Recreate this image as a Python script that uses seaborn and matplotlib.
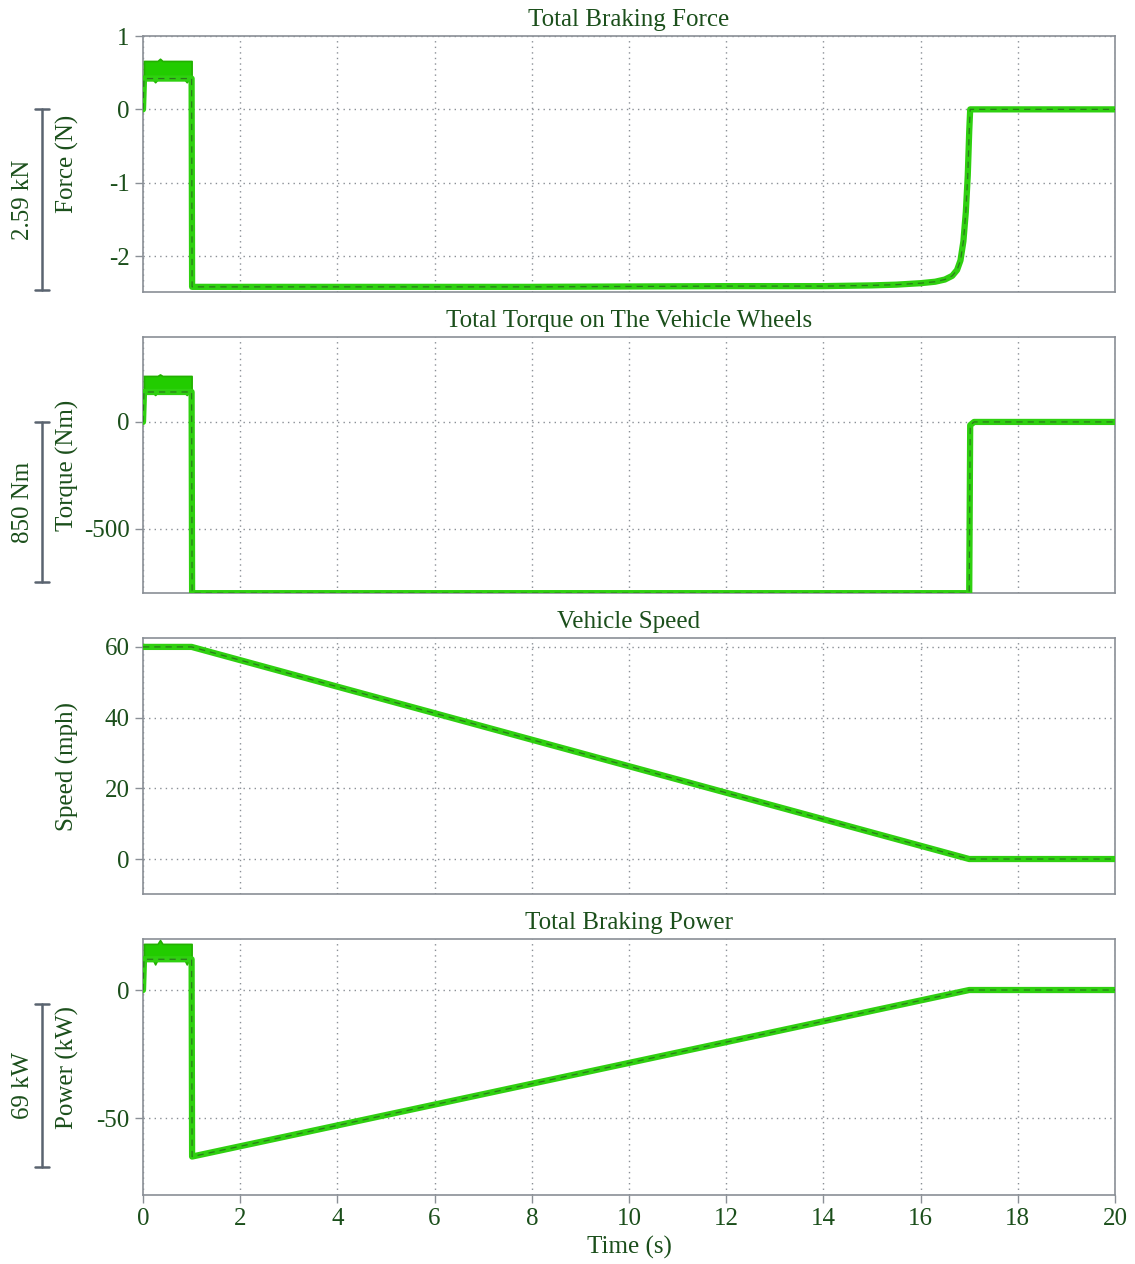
import matplotlib
matplotlib.use('Agg')
import matplotlib.pyplot as plt
import matplotlib.transforms as mtransforms
import seaborn as sns
import pandas as pd

# values
force_t = [0, 0.02, 1.0, 1.01, 4, 8, 12, 14, 15.0, 15.5, 16.0, 16.3, 16.5, 16.65, 16.75, 16.82, 16.88,
           16.93, 16.97, 17.0, 17.02, 20]
force_v = [0, 0.42, 0.42, -2.42, -2.42, -2.42, -2.41, -2.41, -2.40, -2.39, -2.37, -2.35, -2.32, -2.27,
           -2.19, -2.06, -1.8, -1.4, -0.9, -0.3, 0, 0]
force_band_t = [0.02, 0.2, 0.25, 0.3, 0.35, 0.4, 0.85, 0.9, 0.95, 1.0]
force_band_lo = [0.41, 0.41, 0.37, 0.41, 0.41, 0.41, 0.41, 0.37, 0.41, 0.41]
force_band_hi = [0.66, 0.66, 0.66, 0.66, 0.69, 0.66, 0.66, 0.66, 0.66, 0.66]

torque_t = [0, 0.02, 1.0, 1.01, 17.0, 17.02, 17.1, 20]
torque_v = [0, 140, 140, -800, -800, -15, 0, 0]
torque_band_t = [0.02, 0.2, 0.25, 0.3, 0.35, 0.4, 0.85, 0.9, 0.95, 1.0]
torque_band_lo = [138, 138, 126, 138, 138, 138, 138, 126, 138, 138]
torque_band_hi = [215, 215, 215, 215, 222, 215, 215, 215, 215, 215]

speed_t = [0, 1.0, 17.0, 20]
speed_v = [60, 60, 0, 0]

power_t = [0, 0.02, 1.0, 1.01, 17.0, 20]
power_v = [0, 12, 12, -65, 0, 0]
power_band_t = [0.02, 0.2, 0.25, 0.3, 0.35, 0.4, 0.85, 0.9, 0.95, 1.0]
power_band_lo = [12, 12, 10, 12, 12, 12, 12, 10, 12, 12]
power_band_hi = [18, 18, 18, 18, 19.5, 18, 18, 18, 18, 18]

titles = ['Total Braking Force', 'Total Torque on The Vehicle Wheels', 'Vehicle Speed', 'Total Braking Power']
ylabels = ['Force (N)', 'Torque (Nm)', 'Speed (mph)', 'Power (kW)']
yticks = [[1, 0, -1, -2], [0, -500], [60, 40, 20, 0], [0, -50]]
ylims = [(-2.49, 1.0), (-799, 397), (-9.9, 62.5), (-80, 19.9)]
xticks = [0, 2, 4, 6, 8, 10, 12, 14, 16, 18, 20]

# scale bars: label, y range in data units
scale_bars = [('2.59 kN', 0, -2.46), ('850 Nm', 0, -748), None, ('69 kW', -5.5, -69)]

sns.set_theme(style="white")
plt.rcParams['font.family'] = ['Liberation Serif', 'DejaVu Serif']
plt.rcParams['axes.unicode_minus'] = False

txt = '#1b4f1b'
edge = '#8a8f96'
light = '#2fd010'
dark = '#2a7a1c'

fig = plt.figure(figsize=(11.35, 12.64), dpi=100)
bottoms = [0.769, 0.5309, 0.2927, 0.0546]
axes = [fig.add_axes([0.126, b, 0.8564, 0.2025]) for b in bottoms]

series = [(force_t, force_v), (torque_t, torque_v), (speed_t, speed_v), (power_t, power_v)]
bands = [(force_band_t, force_band_lo, force_band_hi),
         (torque_band_t, torque_band_lo, torque_band_hi),
         None,
         (power_band_t, power_band_lo, power_band_hi)]

for i, ax in enumerate(axes):
    t, v = series[i]
    df = pd.DataFrame({'t': t, 'v': v})
    if bands[i] is not None:
        bt, lo, hi = bands[i]
        ax.fill_between(bt, lo, hi, color='#22cc00', lw=1.2, edgecolor='#22b000', zorder=3)
    sns.lineplot(data=df, x='t', y='v', ax=ax, color=light, lw=4.5, estimator=None, sort=False, zorder=4)
    sns.lineplot(data=df, x='t', y='v', ax=ax, color=dark, lw=0.9, ls=(0, (5, 4)),
                 estimator=None, sort=False, zorder=5)

    ax.set_xlim(0, 20)
    ax.set_ylim(*ylims[i])
    ax.set_xticks(xticks)
    ax.set_yticks(yticks[i])
    ax.grid(True, ls=(0, (1, 3)), color='#8a8f96', lw=1.0)
    for s in ax.spines.values():
        s.set_color(edge)
        s.set_linewidth(1.2)
    ax.tick_params(axis='both', direction='out', length=6, width=1.0, color=edge,
                   labelsize=18, labelcolor=txt, left=True, bottom=True)
    ax.set_title(titles[i], fontsize=18, color=txt, pad=7)
    ax.set_ylabel(ylabels[i], fontsize=18, color=txt)
    ax.yaxis.set_label_coords(-0.066, 0.5)
    if i < 3:
        ax.tick_params(axis='x', labelbottom=False, bottom=False)
        ax.set_xlabel('')
    else:
        ax.set_xlabel('Time (s)', fontsize=18, color=txt, labelpad=4)

    sb = scale_bars[i]
    if sb is not None:
        label, y0, y1 = sb
        tr = mtransforms.blended_transform_factory(fig.transFigure, ax.transData)
        xb = 42 / 1135
        cap = 7 / 1135
        ax.plot([xb, xb], [y0, y1], color='#5a6470', lw=1.8, transform=tr, clip_on=False)
        ax.plot([xb - cap, xb + cap], [y0, y0], color='#5a6470', lw=1.8, transform=tr, clip_on=False)
        ax.plot([xb - cap, xb + cap], [y1, y1], color='#5a6470', lw=1.8, transform=tr, clip_on=False)
        ax.text(23 / 1135, (y0 + y1) / 2, label, rotation=90, transform=tr, ha='center', va='center',
                fontsize=18, color=txt)

fig.savefig('out.png', dpi=100)
